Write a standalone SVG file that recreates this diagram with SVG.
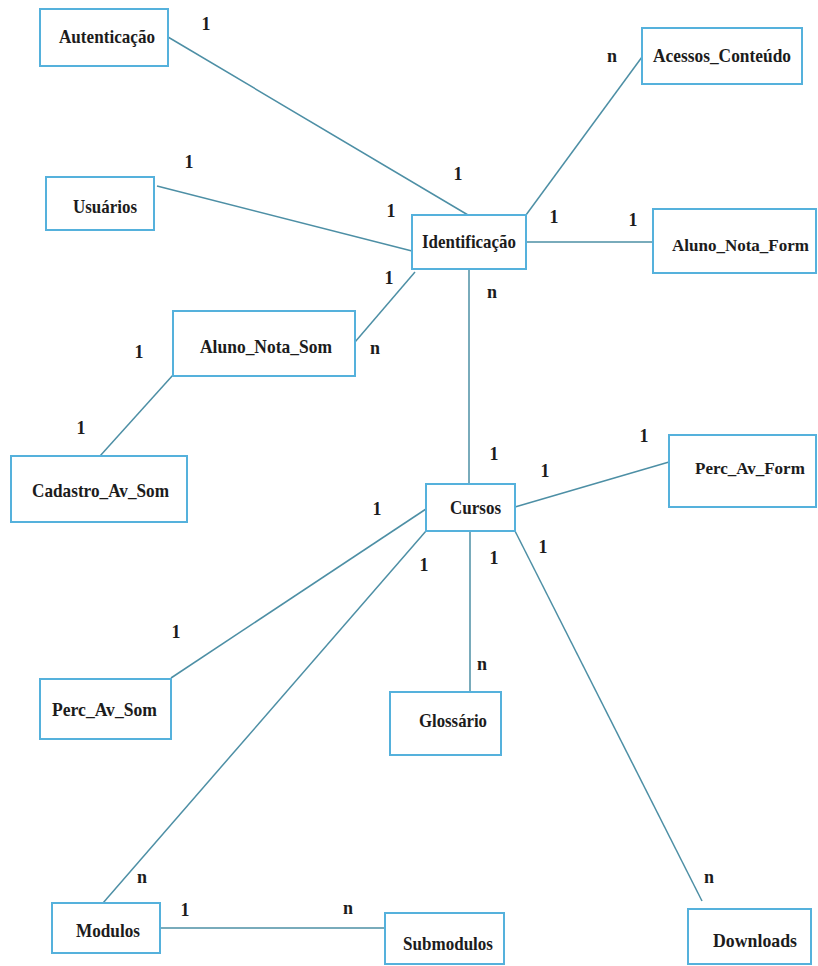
<svg xmlns="http://www.w3.org/2000/svg" width="818" height="966" viewBox="0 0 818 966">
<style>
.box{fill:#ffffff;stroke:#55b1dc;stroke-width:2}
.lbl{font-family:"Liberation Serif","Times New Roman",serif;font-weight:bold;font-size:19px;fill:#1c1c1c;text-anchor:start}
.lbl.sm{font-size:17px}
.card{font-family:"Liberation Serif","Times New Roman",serif;font-weight:bold;font-size:18px;fill:#1c1c1c;text-anchor:middle}
.edge{stroke:#4d8fa5;stroke-width:1.5;fill:none}
</style>
<rect width="818" height="966" fill="#ffffff"/>
<g id="connectors">
<line class="edge" x1="168" y1="37" x2="468" y2="215"/>
<line class="edge" x1="157" y1="186" x2="412" y2="251"/>
<line class="edge" x1="355" y1="342" x2="415" y2="272"/>
<line class="edge" x1="100" y1="456" x2="173" y2="375"/>
<line class="edge" x1="642" y1="57" x2="526" y2="215"/>
<line class="edge" x1="526" y1="242" x2="653" y2="242"/>
<line class="edge" x1="469" y1="269" x2="469" y2="484"/>
<line class="edge" x1="515" y1="507" x2="669" y2="462"/>
<line class="edge" x1="426" y1="509" x2="171" y2="678"/>
<line class="edge" x1="426" y1="531" x2="103" y2="903"/>
<line class="edge" x1="470" y1="531" x2="470" y2="692"/>
<line class="edge" x1="515" y1="531" x2="702" y2="901"/>
<line class="edge" x1="160" y1="928" x2="385" y2="928"/>
</g>
<g id="n-autenticacao"><rect class="box" x="40" y="9" width="128" height="57"/><text class="lbl" x="59" y="43" textLength="96" lengthAdjust="spacingAndGlyphs">Autenticação</text></g>
<g id="n-usuarios"><rect class="box" x="46" y="177" width="108" height="53"/><text class="lbl" x="73" y="213" textLength="64" lengthAdjust="spacingAndGlyphs">Usuários</text></g>
<g id="n-identificacao"><rect class="box" x="412" y="215" width="114" height="54"/><text class="lbl" x="422" y="248" textLength="94" lengthAdjust="spacingAndGlyphs">Identificação</text></g>
<g id="n-acessos"><rect class="box" x="642" y="28" width="160" height="56"/><text class="lbl" x="653" y="62" textLength="138" lengthAdjust="spacingAndGlyphs">Acessos_Conteúdo</text></g>
<g id="n-aluno-nota-form"><rect class="box" x="653" y="209" width="163" height="64"/><text class="lbl sm" x="672" y="251">Aluno_Nota_Form</text></g>
<g id="n-aluno-nota-som"><rect class="box" x="173" y="311" width="182" height="65"/><text class="lbl" x="200" y="353" textLength="132" lengthAdjust="spacingAndGlyphs">Aluno_Nota_Som</text></g>
<g id="n-cadastro"><rect class="box" x="11" y="456" width="176" height="66"/><text class="lbl" x="32" y="497" textLength="137" lengthAdjust="spacingAndGlyphs">Cadastro_Av_Som</text></g>
<g id="n-cursos"><rect class="box" x="426" y="484" width="89" height="47"/><text class="lbl" x="450" y="514" textLength="51" lengthAdjust="spacingAndGlyphs">Cursos</text></g>
<g id="n-perc-av-form"><rect class="box" x="669" y="435" width="147" height="72"/><text class="lbl sm" x="695" y="474">Perc_Av_Form</text></g>
<g id="n-perc-av-som"><rect class="box" x="40" y="679" width="131" height="60"/><text class="lbl" x="52" y="716" textLength="105" lengthAdjust="spacingAndGlyphs">Perc_Av_Som</text></g>
<g id="n-glossario"><rect class="box" x="390" y="692" width="111" height="63"/><text class="lbl" x="419" y="727" textLength="68" lengthAdjust="spacingAndGlyphs">Glossário</text></g>
<g id="n-modulos"><rect class="box" x="52" y="903" width="108" height="50"/><text class="lbl" x="76" y="937" textLength="64" lengthAdjust="spacingAndGlyphs">Modulos</text></g>
<g id="n-submodulos"><rect class="box" x="385" y="913" width="119" height="51"/><text class="lbl" x="403" y="950" textLength="90" lengthAdjust="spacingAndGlyphs">Submodulos</text></g>
<g id="n-downloads"><rect class="box" x="688" y="909" width="123" height="55"/><text class="lbl" x="713" y="947" textLength="84" lengthAdjust="spacingAndGlyphs">Downloads</text></g>
<g id="cardinalities">
<text class="card" x="206" y="30">1</text>
<text class="card" x="612" y="62">n</text>
<text class="card" x="189" y="168">1</text>
<text class="card" x="458" y="180">1</text>
<text class="card" x="391" y="217">1</text>
<text class="card" x="554" y="223">1</text>
<text class="card" x="633" y="226">1</text>
<text class="card" x="389" y="284">1</text>
<text class="card" x="492" y="298">n</text>
<text class="card" x="375" y="354">n</text>
<text class="card" x="139" y="358">1</text>
<text class="card" x="81" y="434">1</text>
<text class="card" x="644" y="442">1</text>
<text class="card" x="494" y="460">1</text>
<text class="card" x="545" y="477">1</text>
<text class="card" x="377" y="515">1</text>
<text class="card" x="424" y="571">1</text>
<text class="card" x="494" y="564">1</text>
<text class="card" x="543" y="553">1</text>
<text class="card" x="176" y="638">1</text>
<text class="card" x="482" y="670">n</text>
<text class="card" x="142" y="883">n</text>
<text class="card" x="185" y="916">1</text>
<text class="card" x="348" y="914">n</text>
<text class="card" x="709" y="883">n</text>
</g>
</svg>
